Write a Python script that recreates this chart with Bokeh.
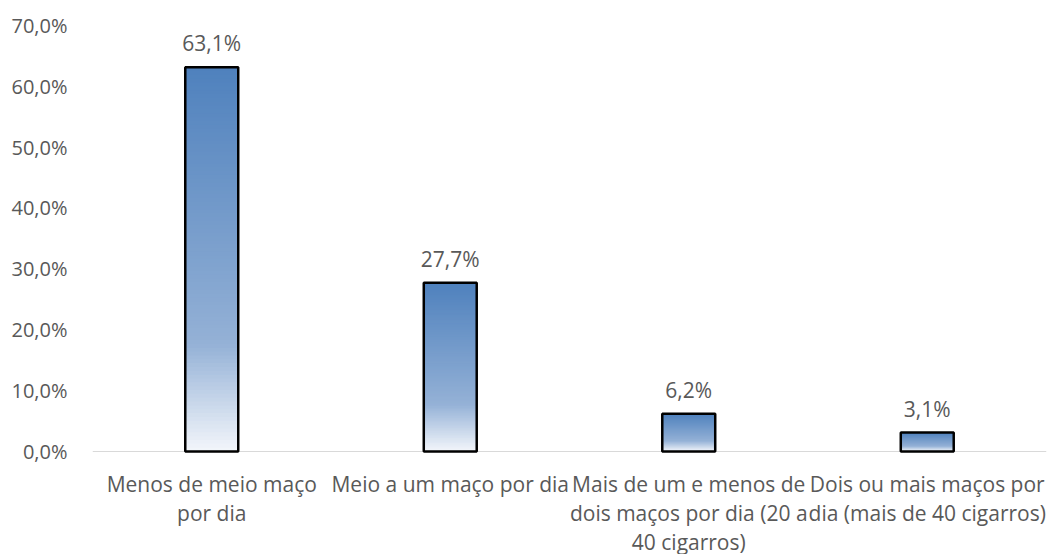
from bokeh.plotting import figure
from bokeh.models import FactorRange, Range1d, FixedTicker, CustomJSTickFormatter
from bokeh.core.properties import value
from bokeh.embed import file_html
from bokeh.resources import INLINE

categories = [
    "Menos de meio maço\npor dia",
    "Meio a um maço por dia",
    "Mais de um e menos de\ndois maços por dia (20 a\n40 cigarros)",
    "Dois ou mais maços por\ndia (mais de 40 cigarros)",
]
values = [63.1, 27.7, 6.2, 3.1]
value_labels = ["63,1%", "27,7%", "6,2%", "3,1%"]
y_ticks = [0, 10, 20, 30, 40, 50, 60, 70]

FONT = "Open Sans"
FS_TICK = "20px"
FS = "21px"
GRAY = "#595959"
PX_PER_UNIT = 6.09

p = figure(
    x_range=FactorRange(*categories, range_padding=0),
    y_range=Range1d(-(554 - 451) / PX_PER_UNIT, 451 / PX_PER_UNIT),
    frame_width=954, frame_height=554,
    min_border_left=92, min_border_right=5, min_border_top=0, min_border_bottom=0,
    output_backend="svg", toolbar_location=None,
)
p.outline_line_color = None
p.xgrid.visible = False
p.ygrid.visible = False
p.xaxis.visible = False
p.background_fill_color = "white"

ya = p.yaxis[0]
ya.ticker = FixedTicker(ticks=y_ticks)
ya.formatter = CustomJSTickFormatter(code="return tick.toFixed(1).replace('.', ',') + '%';")
ya.axis_line_color = None
ya.major_tick_line_color = None
ya.minor_tick_line_color = None
ya.major_label_standoff = 19
ya.major_label_text_font = FONT
ya.major_label_text_font_size = FS_TICK
ya.major_label_text_color = GRAY

# baseline
p.line(x=[0, 4], y=[0, 0], line_color="#d9d9d9", line_width=1.2)

# gradient bars: painted from full height downward, each layer shorter
stops = [(0.0, (79, 129, 189)), (0.72, (148, 177, 214)), (1.0, (243, 246, 251))]

def grad(f):
    for (f0, c0), (f1, c1) in zip(stops[:-1], stops[1:]):
        if f0 <= f <= f1:
            t = (f - f0) / (f1 - f0)
            return "#%02x%02x%02x" % tuple(int(round(a + (b - a) * t)) for a, b in zip(c0, c1))
    return "#%02x%02x%02x" % stops[-1][1]

N = 100
BW = 0.222
for cat, v in zip(categories, values):
    xs, tops, cols = [], [], []
    for i in range(N):
        xs.append(cat)
        tops.append(v * (1 - i / N))
        cols.append(grad((i + 0.5) / N))
    p.vbar(x=xs, top=tops, bottom=0, width=BW, fill_color=cols, line_color=None)

p.vbar(x=categories, top=values, bottom=0, width=BW, fill_color=None,
       line_color="#000000", line_width=2.5)

p.text(x=categories, y=values, text=value_labels, y_offset=-24,
       text_align="center", text_baseline="middle",
       text_font=value(FONT), text_font_size=FS, text_color=GRAY)

# category labels (multi-line)
line_px = 29
for li in range(3):
    xs, ts = [], []
    for cat in categories:
        parts = cat.split("\n")
        if li < len(parts):
            xs.append(cat)
            ts.append(parts[li])
    y = -(32 + li * line_px) / PX_PER_UNIT
    p.text(x=xs, y=[y] * len(xs), text=ts, text_align="center", text_baseline="middle",
           text_font=value(FONT), text_font_size=FS, text_color=GRAY)

open("out.html", "w").write(file_html(p, INLINE))
